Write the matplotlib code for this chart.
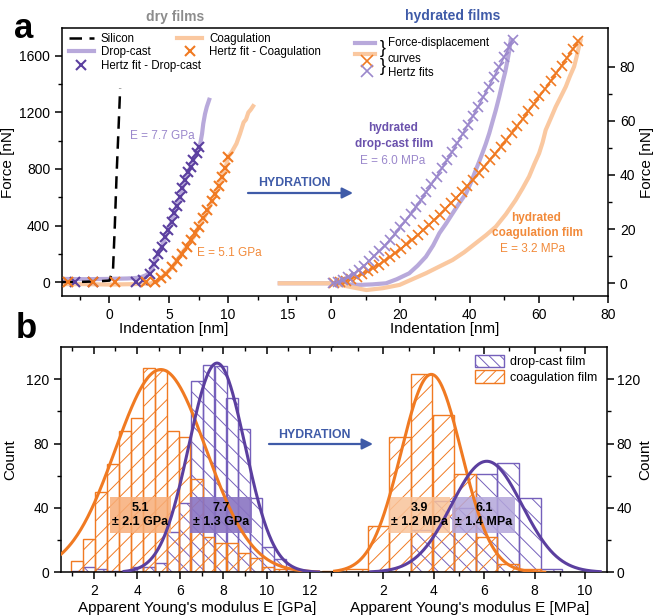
import numpy as np
import matplotlib.pyplot as plt
from matplotlib.patches import Patch, Rectangle

plt.rcParams['font.family'] = ['Liberation Sans', 'DejaVu Sans']
plt.rcParams['hatch.linewidth'] = 0.7
plt.rcParams['axes.linewidth'] = 1.1

PURPLE = '#5b3f9f'
PURPLE_FIT = '#9b88cc'
PURPLE_LINE = '#b8a9db'
PURPLE_TXT = '#6b52ad'
PURPLE_BAR = '#7560bb'
ORANGE = '#f07a22'
ORANGE_LINE = '#fac8a0'
ORANGE_TXT = '#f28a3a'
BLUE = '#3f5ba8'
GREY = '#8c8c8c'

# ---------------- panel a : dry films (nm, nN) ----------------
si_x = [-4.0, -3.0, -2.0, -1.0, 0.0, 0.3, 0.45, 0.6, 0.75, 0.9]
si_f = [0, 0, 2, 5, 10, 90, 400, 760, 1060, 1370]

dc_x = [-4.0, -2.0, 0.0, 1.5, 2.5, 3.0, 3.4, 3.75, 4.1, 4.45, 4.7, 4.95, 5.25, 5.45,
        5.65, 5.95, 6.15, 6.35, 6.65, 6.85, 7.05, 7.35, 7.55, 7.65, 7.8, 7.9, 8.05,
        8.2, 8.4]
dc_f = [22, 20, 22, 25, 30, 45, 65, 130, 200, 255, 320, 370, 430, 485, 535, 600, 665,
        720, 780, 820, 865, 910, 960, 980, 1050, 1120, 1190, 1240, 1290]

dc_fit_x = [-2.9, -1.4, 2.2, 2.8, 3.4, 3.75, 4.1, 4.45, 4.7, 4.95, 5.25, 5.45, 5.65,
            5.95, 6.15, 6.35, 6.65, 6.85, 7.05, 7.35, 7.55]
dc_fit_f = [0, 0, 0, 15, 60, 130, 200, 250, 320, 370, 425, 485, 535, 605, 665, 720,
            780, 815, 865, 910, 955]

co_x = [-4.0, -2.0, 0.0, 2.0, 3.5, 4.0, 4.5, 5.3, 5.9, 6.5, 7.1, 7.5, 8.0, 8.4, 8.8,
        9.2, 9.5, 9.8, 10.0, 10.3, 10.7, 11.0, 11.3, 11.5, 11.7, 11.9, 12.1]
co_f = [-15, -15, -18, -15, -10, 5, 40, 105, 180, 250, 320, 390, 460, 530, 605, 675,
        745, 815, 885, 920, 980, 1050, 1130, 1150, 1200, 1220, 1245]

co_fit_x = [-3.5, -1.4, 0.45, 3.1, 3.85, 4.3, 4.75, 5.3, 5.7, 6.1, 6.5, 6.85, 7.2,
            7.55, 7.9, 8.25, 8.6, 8.9, 9.2, 9.5, 9.75, 10.0]
co_fit_f = [0, 0, 0, 0, 0, 25, 55, 108, 150, 200, 250, 300, 350, 392, 450, 510, 570,
            620, 680, 745, 810, 885]

# ---------------- panel a : hydrated films (nm, nN) ----------------
hdc_x = [-14.8, -5, 0, 4, 8.2, 12, 15.9, 19, 22.6, 25, 27.4, 29.5, 31.3, 33.2, 35.1,
         37, 39.0, 40.5, 41.8, 42.8, 43.7, 44.7, 45.7, 46.6, 47.6, 48.6, 49.5, 50.3,
         51.0, 51.5, 51.9]
hdc_f = [0, 0, 0, -0.3, -0.6, -0.4, 0, 1.5, 3.7, 6.5, 9.8, 14, 18.5, 22, 25.8, 29.5,
         33.2, 37.5, 41.8, 45, 48, 51.5, 55.4, 59.5, 64, 69, 73.9, 78, 82.5, 86, 89.8]

hco_x = [-14.8, -5, 0, 5, 10.2, 15, 19.8, 23.5, 27.4, 31, 35.1, 38.5, 41.8, 44.8,
         47.6, 50.5, 53.3, 55.3, 57.2, 58.7, 60.1, 61.1, 62.0, 63.5, 64.9, 66.4, 67.8,
         69.0, 70.2, 71.0, 71.6, 72.1]
hco_f = [0, 0, 0, -1.2, -2.5, -1.8, -0.6, 1.5, 3.7, 6.0, 8.6, 11.5, 14.8, 17.8, 20.9,
         25.5, 30.7, 35, 39.4, 44, 48, 52, 56.6, 61, 65.2, 69, 72.6, 76.5, 80.0, 84,
         87.4, 89.8]

hdc_fit_x = [0.5, 2, 3.5, 5, 6.5, 8, 9.5, 11, 12.5, 14, 15.5, 17, 18.5, 20, 21.5, 23,
             24.5, 26, 27.5, 29, 30.5, 32, 33.5, 35, 36.5, 38, 39.5, 41, 42.5, 44, 45.5,
             47, 48.5, 50, 51.5, 52.5]
hdc_fit_f = [0, 0.4, 1.2, 2.3, 3.5, 4.9, 6.5, 8.2, 10.0, 11.9, 13.9, 16.1, 18.3, 20.7,
             23.1, 25.6, 28.2, 30.9, 33.7, 36.5, 39.4, 42.4, 45.5, 48.6, 51.8, 55.1,
             58.5, 61.8, 65.3, 68.9, 72.5, 76.1, 79.8, 83.6, 87.4, 90.0]

hco_fit_x = [1.0, 2.6, 4.2, 5.8, 7.4, 9.0, 10.6, 12.2, 13.8, 15.4, 17.0, 18.6, 20.2,
             21.8, 23.4, 25.0, 26.6, 28.2, 29.8, 31.4, 33.0, 34.6, 36.2, 37.8, 39.4,
             41.0, 42.6, 44.2, 45.8, 47.4, 49.0, 50.6, 52.2, 53.8, 55.4, 57.0, 58.6,
             60.2, 61.8, 63.4, 65.0, 66.6, 68.2, 69.8, 71.4]
hco_fit_f = [0, 0.3, 0.9, 1.6, 2.5, 3.4, 4.5, 5.7, 6.9, 8.3, 9.7, 11.2, 12.7, 14.4,
             16.1, 17.8, 19.6, 21.5, 23.4, 25.4, 27.4, 29.5, 31.6, 33.8, 36.0, 38.3,
             40.6, 43.0, 45.4, 47.9, 50.4, 52.9, 55.5, 58.1, 60.8, 63.5, 66.2, 69.0,
             71.8, 74.6, 77.5, 80.4, 83.4, 86.4, 89.4]

# ---------------- panel b : modulus histograms ----------------
gpa_left = [0.94, 1.49, 2.05, 2.6, 3.16, 3.71, 4.27, 4.82, 5.37, 5.92, 6.48, 7.03,
            7.59, 8.14, 8.69, 9.25, 9.8, 10.36, 10.91, 11.47, 12.02, 12.57]
gpa_coag = [7, 21, 50, 67, 88, 96, 127, 126, 88, 84, 58, 22, 18, 18, 12, 9, 3, 2, 0, 0, 0, 1]
gpa_drop = [1, 3, 2, 1, 1, 3, 3, 6, 25, 43, 119, 129, 128, 108, 89, 46, 16, 8, 2, 0, 0, 0]
gpa_width = 0.554

mpa_left = [0.52, 1.38, 2.23, 3.09, 3.95, 4.81, 5.66, 6.52, 7.38, 8.23]
mpa_coag = [2, 29, 84, 123, 98, 61, 22, 5, 2, 0]
mpa_drop = [0, 0, 0, 26, 44, 40, 61, 68, 46, 2]
mpa_width = 0.857

# gaussian fits: mean, sd, peak count
gpa_coag_fit = (5.1, 2.1, 126)
gpa_drop_fit = (7.7, 1.3, 130)
mpa_coag_fit = (3.9, 1.2, 123)
mpa_drop_fit = (6.1, 1.4, 69)

W, H = 654, 615


def fx(px):
    return px / W


def fy(py):
    return 1 - py / H


def gauss(e, fit):
    mu, sd, amp = fit
    return amp * np.exp(-(e - mu) ** 2 / (2 * sd ** 2))


def hydration_arrow(x_text, y_text, x0, x1, y):
    fig.text(fx(x_text), fy(y_text), 'HYDRATION', ha='center', va='center',
             fontsize=8.8, fontweight='bold', color=BLUE)
    fig.add_artist(plt.Annotation('', xy=(fx(x1), fy(y)), xytext=(fx(x0), fy(y)),
                                  xycoords='figure fraction', textcoords='figure fraction',
                                  arrowprops=dict(arrowstyle='-|>', lw=1.6, color=BLUE,
                                                  mutation_scale=16, shrinkA=0, shrinkB=0)))


fig = plt.figure(figsize=(W / 100, H / 100), dpi=100)

# ================= panel a =================
rect_a = [fx(62), fy(296), fx(608) - fx(62), fy(28) - fy(296)]
ax_dry = fig.add_axes(rect_a)
ax_hyd = fig.add_axes(rect_a, frameon=False)
ax_hyd.patch.set_visible(False)

ax_dry.set_xlim(-4.0, 42.0)
ax_dry.set_ylim(-99, 1798)
ax_hyd.set_xlim(-77.7, 79.9)
ax_hyd.set_ylim(-4.7, 94.3)

l_si, = ax_dry.plot(si_x, si_f, color='black', lw=1.8, dashes=(5, 3), label='Silicon', zorder=4)
l_dc, = ax_dry.plot(dc_x, dc_f, color=PURPLE_LINE, lw=3, label='Drop-cast', zorder=2)
l_co, = ax_dry.plot(co_x, co_f, color=ORANGE_LINE, lw=3, label='Coagulation', zorder=2)
m_dc, = ax_dry.plot(dc_fit_x, dc_fit_f, ls='none', marker='x', ms=7, mew=1.5,
                    color=PURPLE, label='Hertz fit - Drop-cast', zorder=5)
m_co, = ax_dry.plot(co_fit_x, co_fit_f, ls='none', marker='x', ms=7, mew=1.5,
                    color=ORANGE, label='Hertz fit - Coagulation', zorder=5)

ax_dry.set_xticks([0, 5, 10, 15])
ax_dry.set_xticks([-2.5, 2.5, 7.5, 12.5], minor=True)
ax_dry.set_yticks([0, 400, 800, 1200, 1600])
ax_dry.set_yticks([200, 600, 1000, 1400], minor=True)
ax_dry.tick_params(which='both', direction='out', top=False, right=False, labelsize=10)
ax_dry.tick_params(which='major', length=5, width=1.1)
ax_dry.tick_params(which='minor', length=3, width=1)
ax_dry.set_ylabel('Force [nN]', fontsize=11, labelpad=3)
ax_dry.text(0.205, -0.125, 'Indentation [nm]', transform=ax_dry.transAxes,
            ha='center', va='center', fontsize=11)

leg_kw = dict(frameon=False, fontsize=8.3, handlelength=2.2, labelspacing=0.12,
              borderpad=0, borderaxespad=0, handletextpad=0.6, loc='center left')
leg1 = ax_dry.legend(handles=[l_si, l_dc, l_co, m_co], ncol=2, columnspacing=2.3,
                     bbox_to_anchor=(0.012, 1 - 17.5 / 268), **leg_kw)
ax_dry.add_artist(leg1)
ax_dry.legend(handles=[m_dc], bbox_to_anchor=(0.012, 1 - 38 / 268), **leg_kw)

fig.text(fx(162), fy(136), 'E = 7.7 GPa', ha='center', va='center', fontsize=8.5,
         color=PURPLE_FIT)
fig.text(fx(229), fy(253), 'E = 5.1 GPa', ha='center', va='center', fontsize=8.5,
         color=ORANGE_TXT)

# hydrated curves on the overlaid axes
ax_hyd.plot(hdc_x, hdc_f, color=PURPLE_LINE, lw=3, zorder=2)
ax_hyd.plot(hco_x, hco_f, color=ORANGE_LINE, lw=3, zorder=2)
ax_hyd.plot(hco_fit_x, hco_fit_f, ls='-', lw=1.2, marker='x', ms=7.5, mew=1.2,
            color=ORANGE, zorder=4)
ax_hyd.plot(hdc_fit_x, hdc_fit_f, ls='-', lw=1.2, marker='x', ms=7.5, mew=1.2,
            color=PURPLE_FIT, zorder=4)

ax_hyd.set_xticks([0, 20, 40, 60, 80])
ax_hyd.set_xticks([-10, 10, 30, 50, 70], minor=True)
ax_hyd.set_yticks([0, 20, 40, 60, 80])
ax_hyd.set_yticks([10, 30, 50, 70], minor=True)
ax_hyd.yaxis.tick_right()
ax_hyd.yaxis.set_label_position('right')
ax_hyd.tick_params(which='both', direction='out', labelsize=10, top=False, left=False)
ax_hyd.tick_params(which='major', length=5, width=1.1)
ax_hyd.tick_params(which='minor', length=3, width=1)
ax_hyd.set_ylabel('Force [nN]', fontsize=11, labelpad=3)
ax_hyd.text(0.701, -0.125, 'Indentation [nm]', transform=ax_hyd.transAxes,
            ha='center', va='center', fontsize=11)

# hand-made legend for the hydrated curves
tA = ax_hyd.transAxes
ax_hyd.plot([0.537, 0.573], [0.943, 0.943], transform=tA, color=PURPLE_LINE, lw=3, clip_on=False)
ax_hyd.plot([0.537, 0.573], [0.902, 0.902], transform=tA, color=ORANGE_LINE, lw=3, clip_on=False)
ax_hyd.plot([0.558], [0.876], transform=tA, marker='x', ms=8, mew=1.2, color=ORANGE, clip_on=False)
ax_hyd.plot([0.558], [0.840], transform=tA, marker='x', ms=8, mew=1.2, color=PURPLE_FIT, clip_on=False)
ax_hyd.text(0.582, 0.922, '}', transform=tA, fontsize=13, va='center', ha='left')
ax_hyd.text(0.582, 0.856, '}', transform=tA, fontsize=13, va='center', ha='left')
ax_hyd.text(0.597, 0.944, 'Force-displacement', transform=tA, fontsize=8.3, va='center')
ax_hyd.text(0.597, 0.884, 'curves', transform=tA, fontsize=8.3, va='center')
ax_hyd.text(0.597, 0.832, 'Hertz fits', transform=tA, fontsize=8.3, va='center')

fig.text(fx(393), fy(128), 'hydrated', ha='center', va='center', fontsize=8.5,
         fontweight='bold', color=PURPLE_TXT)
fig.text(fx(394), fy(144), 'drop-cast film', ha='center', va='center', fontsize=8.5,
         fontweight='bold', color=PURPLE_TXT)
fig.text(fx(393), fy(161), 'E = 6.0 MPa', ha='center', va='center', fontsize=8.5,
         color=PURPLE_FIT)
fig.text(fx(536), fy(218), 'hydrated', ha='center', va='center', fontsize=8.5,
         fontweight='bold', color=ORANGE_TXT)
fig.text(fx(537), fy(233), 'coagulation film', ha='center', va='center', fontsize=8.5,
         fontweight='bold', color=ORANGE_TXT)
fig.text(fx(533), fy(249), 'E = 3.2 MPa', ha='center', va='center', fontsize=8.5,
         color=ORANGE_TXT)

fig.text(fx(175), fy(17), 'dry films', ha='center', va='center', fontsize=10,
         fontweight='bold', color=GREY)
fig.text(fx(453), fy(16), 'hydrated films', ha='center', va='center', fontsize=10,
         fontweight='bold', color=BLUE)

hydration_arrow(294, 183, 248, 353, 193)
hydration_arrow(314, 435, 269, 373, 444)

fig.text(fx(14), fy(38), 'a', fontsize=25, fontweight='bold', va='baseline')
fig.text(fx(16), fy(338), 'b', fontsize=25, fontweight='bold', va='baseline')

# ================= panel b =================
y0, y1 = fy(572.3), fy(347)
ax_l = fig.add_axes([fx(61), y0, fx(333) - fx(61), y1 - y0])
ax_r = fig.add_axes([fx(333), y0, fx(607) - fx(333), y1 - y0])

panels = [
    (ax_l, gpa_left, gpa_width, gpa_drop, gpa_coag, gpa_drop_fit, gpa_coag_fit,
     (3.4, 12.4), (0.48, 12.4), (0.48, 13.07), [2, 4, 6, 8, 10, 12], [1, 3, 5, 7, 9, 11, 13]),
    (ax_r, mpa_left, mpa_width, mpa_drop, mpa_coag, mpa_drop_fit, mpa_coag_fit,
     (1.5, 10.6), (0.05, 8.4), (0.0, 10.87), [2, 4, 6, 8, 10], [1, 3, 5, 7, 9]),
]
for ax, left, wdt, drop, coag, fit_d, fit_c, rng_d, rng_c, xl, maj, mnr in panels:
    ax.bar(left, drop, width=wdt, align='edge', facecolor='none', edgecolor=PURPLE_BAR,
           hatch='\\\\', lw=1.0, zorder=2)
    ax.bar(left, coag, width=wdt, align='edge', facecolor='none', edgecolor=ORANGE,
           hatch='//', lw=1.0, zorder=2)
    e = np.linspace(*rng_c, 300)
    ax.plot(e, gauss(e, fit_c), color=ORANGE, lw=2.2, zorder=4)
    e = np.linspace(*rng_d, 300)
    ax.plot(e, gauss(e, fit_d), color=PURPLE, lw=2.2, zorder=4)
    ax.set_xlim(*xl)
    ax.set_ylim(0, 140)
    ax.set_xticks(maj)
    ax.set_xticks(mnr, minor=True)
    ax.set_yticks([0, 40, 80, 120])
    ax.set_yticks([20, 60, 100], minor=True)
    ax.tick_params(which='both', labelsize=10, direction='out')
    ax.tick_params(which='major', length=5, width=1.1)
    ax.tick_params(which='minor', length=3, width=1)
    # inward ticks mirrored on the top edge
    top = ax.secondary_xaxis('top')
    top.set_xticks(maj)
    top.set_xticks(mnr, minor=True)
    top.tick_params(which='both', direction='in', labeltop=False)
    top.tick_params(which='major', length=5, width=1.1)
    top.tick_params(which='minor', length=3, width=1)
    top.spines['top'].set_visible(False)

ax_l.spines['right'].set_visible(False)
ax_r.spines['left'].set_visible(False)
ax_l.tick_params(which='both', right=False)
ax_r.tick_params(which='both', left=False, labelleft=False, right=True, labelright=True)
ax_r.tick_params(axis='y', which='major', pad=2)
ax_r.yaxis.set_label_position('right')
ax_l.set_ylabel('Count', fontsize=11, labelpad=6)
ax_r.set_ylabel('Count', fontsize=11, labelpad=-1)
ax_l.set_xlabel("Apparent Young's modulus E [GPa]", fontsize=11, labelpad=2)
ax_r.set_xlabel("Apparent Young's modulus E [MPa]", fontsize=11, labelpad=2)

# mean +/- sd boxes
boxes = [
    (ax_l, 2.75, 5.57, '#f7ad78', 0.85, gpa_coag_fit, 'GPa'),
    (ax_l, 6.45, 9.32, '#8a74c2', 0.9, gpa_drop_fit, 'GPa'),
    (ax_r, 2.21, 4.66, '#f9c39a', 0.85, mpa_coag_fit, 'MPa'),
    (ax_r, 4.74, 7.23, '#b3a6da', 0.85, mpa_drop_fit, 'MPa'),
]
for ax, xa, xb, col, alp, fit, unit in boxes:
    ax.add_patch(Rectangle((xa, 24.5), xb - xa, 22.5, facecolor=col, edgecolor='none',
                           alpha=alp, zorder=3))
    ax.text((xa + xb) / 2, 35.7, f'{fit[0]:.1f}\n\u00b1 {fit[1]:.1f} {unit}',
            ha='center', va='center', fontsize=9, fontweight='bold', zorder=5,
            linespacing=1.15)

ax_r.legend(handles=[Patch(facecolor='none', edgecolor=PURPLE_BAR, hatch='\\\\\\',
                           label='drop-cast film'),
                     Patch(facecolor='none', edgecolor=ORANGE, hatch='///',
                           label='coagulation film')],
            loc='upper left', bbox_to_anchor=(0.49, 1.0), frameon=False, fontsize=9,
            handlelength=2.3, handleheight=1.2, labelspacing=0.15, borderaxespad=0.2,
            handletextpad=0.5)

fig.savefig('out.png', dpi=100)
